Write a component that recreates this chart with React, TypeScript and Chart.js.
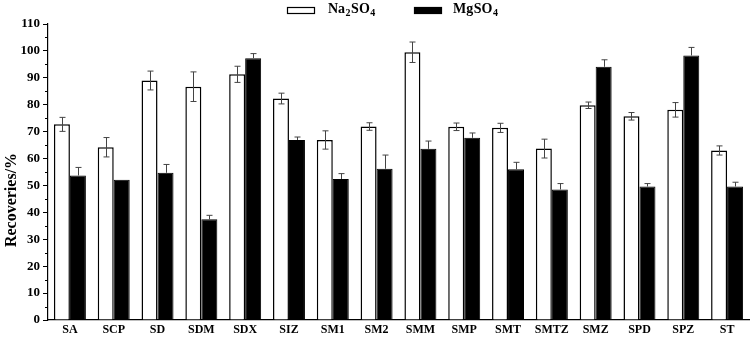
import React, { useEffect, useRef } from "react";
import { Chart, registerables } from "chart.js";

Chart.register(...registerables);

const categories = ["SA", "SCP", "SD", "SDM", "SDX", "SIZ", "SM1", "SM2", "SMM", "SMP", "SMT", "SMTZ", "SMZ", "SPD", "SPZ", "ST"];
const na2so4 = [72.7, 64.2, 89.0, 86.7, 91.3, 82.3, 66.9, 71.9, 99.5, 71.8, 71.4, 63.7, 79.8, 75.7, 78.1, 63.0];
const na2so4Err = [2.6, 3.6, 3.5, 5.5, 3.0, 2.0, 3.4, 1.4, 3.8, 1.4, 1.7, 3.5, 1.2, 1.4, 2.7, 1.7];
const mgso4 = [53.7, 52.1, 54.7, 37.4, 97.3, 66.9, 52.4, 56.2, 63.6, 67.7, 56.0, 48.5, 94.1, 49.6, 98.3, 49.6];
const mgso4Err = [3.0, 0, 3.1, 1.5, 1.7, 1.1, 2.0, 5.1, 2.9, 1.8, 2.6, 2.2, 2.6, 1.1, 3.0, 1.6];
const yTitle = "Recoveries/%";
const legendParts = [
  [["Na", false], ["2", true], ["SO", false], ["4", true]],
  [["Mg", false], ["SO", false], ["4", true]],
] as [string, boolean][][];

const SERIF = "'Liberation Serif', 'Times New Roman', serif";

const errorBarPlugin = {
  id: "errorBars",
  afterDatasetsDraw(chart: any) {
    const ctx = chart.ctx;
    const yScale = chart.scales.y;
    const errs = [na2so4Err, mgso4Err];
    const vals = [na2so4, mgso4];
    ctx.save();
    ctx.strokeStyle = "#444";
    ctx.lineWidth = 1;
    chart.data.datasets.forEach((ds: any, di: number) => {
      const meta = chart.getDatasetMeta(di);
      meta.data.forEach((bar: any, i: number) => {
        const e = errs[di][i];
        if (!e) return;
        const v = vals[di][i];
        const x = Math.round(bar.x) + 0.5;
        const yTop = yScale.getPixelForValue(v + e);
        const yBot = di === 0 ? yScale.getPixelForValue(v - e) : yScale.getPixelForValue(v);
        ctx.beginPath();
        ctx.moveTo(x, yTop);
        ctx.lineTo(x, yBot);
        ctx.moveTo(x - 3, yTop);
        ctx.lineTo(x + 3, yTop);
        if (di === 0) {
          ctx.moveTo(x - 3, yBot);
          ctx.lineTo(x + 3, yBot);
        }
        ctx.stroke();
      });
    });
    ctx.restore();
  },
};

const decorPlugin = {
  id: "decor",
  afterDraw(chart: any) {
    const ctx = chart.ctx;
    const yScale = chart.scales.y;
    const left = chart.chartArea.left;
    ctx.save();
    ctx.strokeStyle = "#000";
    ctx.lineWidth = 1;
    for (let v = 5; v < 110; v += 10) {
      const y = Math.round(yScale.getPixelForValue(v)) + 0.5;
      ctx.beginPath();
      ctx.moveTo(left - 3, y);
      ctx.lineTo(left, y);
      ctx.stroke();
    }
    ctx.fillStyle = "#000";
    ctx.font = "bold 16px " + SERIF;
    ctx.textAlign = "center";
    ctx.textBaseline = "middle";
    ctx.translate(12, 200);
    ctx.rotate(-Math.PI / 2);
    ctx.fillText(yTitle, 0, 0);
    ctx.restore();

    ctx.save();
    const boxes = [
      { x: 287, fill: "#fff" },
      { x: 414, fill: "#000" },
    ];
    const textX = [328, 453];
    boxes.forEach((b, i) => {
      ctx.fillStyle = b.fill;
      ctx.strokeStyle = "#000";
      ctx.lineWidth = 1.2;
      ctx.fillRect(b.x, 7, 28, 6);
      ctx.strokeRect(b.x + 0.5, 7.5, 27, 6);
      let x = textX[i];
      ctx.fillStyle = "#000";
      ctx.textAlign = "left";
      ctx.textBaseline = "alphabetic";
      legendParts[i].forEach(([t, sub]) => {
        ctx.font = sub ? "bold 10px " + SERIF : "bold 14px " + SERIF;
        ctx.fillText(t, x, sub ? 16 : 13);
        x += ctx.measureText(t).width + 0.5;
      });
    });
    ctx.restore();
  },
};

export default function App() {
  const ref = useRef<HTMLCanvasElement>(null);
  useEffect(() => {
    if (!ref.current) return;
    const chart = new Chart(ref.current, {
      type: "bar",
      data: {
        labels: categories,
        datasets: [
          {
            label: "Na2SO4",
            data: na2so4,
            backgroundColor: "#fff",
            borderColor: "#000",
            borderWidth: 1.5,
            categoryPercentage: 0.73,
            barPercentage: 1,
          },
          {
            label: "MgSO4",
            data: mgso4,
            backgroundColor: "#000",
            borderColor: "#000",
            borderWidth: 1,
            categoryPercentage: 0.73,
            barPercentage: 1,
          },
        ],
      },
      options: {
        responsive: false,
        animation: false,
        layout: { padding: { left: 0, right: 7, top: 24, bottom: 0 } },
        plugins: { legend: { display: false }, tooltip: { enabled: false }, title: { display: false } },
        scales: {
          x: {
            grid: { display: false, drawTicks: false },
            border: { display: true, color: "#000", width: 1.2 },
            ticks: { color: "#000", font: { family: SERIF, size: 12, weight: "bold" }, padding: 3, maxRotation: 0, autoSkip: false },
            afterFit: (s: any) => { s.height = 17; },
          },
          y: {
            min: 0,
            max: 110,
            grid: {
              display: true,
              drawOnChartArea: false,
              drawTicks: true,
              tickLength: 5,
              color: (c: any) => (c.tick && c.tick.value % 10 === 0 ? "#000" : "rgba(0,0,0,0)"),
            },
            border: { display: true, color: "#000", width: 1.2 },
            ticks: {
              stepSize: 5,
              autoSkip: false,
              color: "#000",
              padding: 3,
              font: { family: SERIF, size: 13, weight: "bold" },
              callback: (v: any) => (v % 10 === 0 ? String(v) : ""),
            },
            afterFit: (s: any) => { s.width = 48; },
          },
        },
      },
      plugins: [errorBarPlugin, decorPlugin],
    });
    return () => chart.destroy();
  }, []);
  return (
    <div style={{ position: "fixed", left: 0, top: 0, width: 756, height: 337, background: "#fff" }}>
      <canvas ref={ref} width={756} height={337} style={{ display: "block" }} />
    </div>
  );
}
